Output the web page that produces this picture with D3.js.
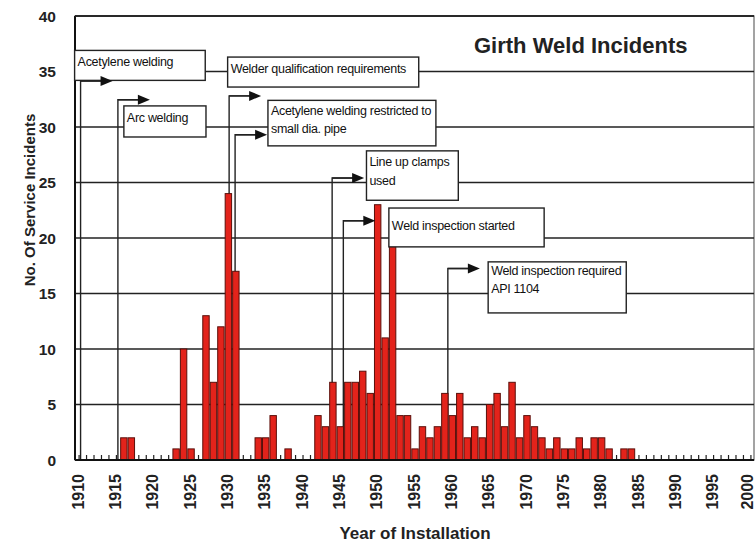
<!DOCTYPE html>
<html>
<head>
<meta charset="utf-8">
<script src="https://cdn.jsdelivr.net/npm/d3@7"></script>
<style>
  html, body { margin: 0; padding: 0; background: #fff; }
  svg { display: block; font-family: "Liberation Sans", Arial, sans-serif; }
</style>
</head>
<body>
<svg id="chart" width="755" height="546"></svg>
<script>
// ---------- data ----------
const years = d3.range(1910, 2001);
const incidents = [
  0, 0, 0, 0, 0, 0, 2, 2, 0, 0,      // 1910-1919
  0, 0, 0, 1, 10, 1, 0, 13, 7, 12,   // 1920-1929
  24, 17, 0, 0, 2, 2, 4, 0, 1, 0,    // 1930-1939
  0, 0, 4, 3, 7, 3, 7, 7, 8, 6,      // 1940-1949
  23, 11, 20, 4, 4, 1, 3, 2, 3, 6,   // 1950-1959
  4, 6, 2, 3, 2, 5, 6, 3, 7, 2,      // 1960-1969
  4, 3, 2, 1, 2, 1, 1, 2, 1, 2,      // 1970-1979
  2, 1, 0, 1, 1, 0, 0, 0, 0, 0,      // 1980-1989
  0, 0, 0, 0, 0, 0, 0, 0, 0, 0,      // 1990-1999
  0                                  // 2000
];
const xTickLabels = d3.range(1910, 2001, 5);
const yTickValues = [0, 5, 10, 15, 20, 25, 30, 35, 40];
const titleText = "Girth Weld Incidents";
const xTitle = "Year of Installation";
const yTitle = "No. Of Service Incidents";

// annotation events: connector year, arrow level (incidents units), box in data units
const annotations = [
  { lines: ["Acetylene welding"], year: 1910.2, level: 34.15, box: [1909.4, 1926.9, 36.9, 34.2] },
  { lines: ["Arc welding"], year: 1915.2, level: 32.45, box: [1916.0, 1927.0, 31.9, 29.1] },
  { lines: ["Welder qualification requirements"], year: 1930.1, level: 32.8, box: [1929.9, 1955.5, 36.3, 33.6] },
  { lines: ["Acetylene welding restricted to", "small dia. pipe"], year: 1930.9, level: 29.3, box: [1935.3, 1957.8, 32.4, 28.3] },
  { lines: ["Line up clamps", "used"], year: 1943.9, level: 25.4, box: [1948.5, 1960.8, 27.85, 23.4] },
  { lines: ["Weld inspection started"], year: 1945.4, level: 21.55, box: [1951.5, 1972.3, 22.7, 19.2] },
  { lines: ["Weld inspection required", "API 1104"], year: 1959.4, level: 17.25, box: [1964.8, 1983.3, 17.85, 13.25] }
];
// first-baseline offset and line spacing for each box (layout)
const textLayout = [
  { dy0: 16, gap: 18 }, { dy0: 16, gap: 18 }, { dy0: 16, gap: 18 },
  { dy0: 15, gap: 18 }, { dy0: 15, gap: 19 }, { dy0: 22, gap: 18 }, { dy0: 13, gap: 18 }
];

(function () {
// ---------- layout ----------
const svg = d3.select("#chart");
const pL = 75, pR = 754, pT = 16, pB = 460;

const x = d3.scaleBand().domain(years).range([pL + 0.5, pR + 0.5]).paddingInner(0.14).paddingOuter(0.05);
const y = d3.scaleLinear().domain([0, 40]).range([pB, pT]);
const xc = yr => x(yr) + x.bandwidth() / 2;
const xl = d3.scaleLinear().domain([1910, 2000]).range([xc(1910), xc(2000)]);

// frame
svg.append("rect")
  .attr("x", pL).attr("y", pT)
  .attr("width", pR - pL).attr("height", pB - pT)
  .attr("fill", "#fff").attr("stroke", "#666").attr("stroke-width", 1.2);

// horizontal gridlines
svg.append("g").selectAll("line")
  .data(yTickValues.filter(v => v > 0))
  .join("line")
  .attr("x1", pL).attr("x2", pR)
  .attr("y1", d => y(d)).attr("y2", d => y(d))
  .attr("stroke", "#222").attr("stroke-width", 1.4);

// x axis small inward ticks (at each year)
const xAxis = d3.axisBottom(x).tickSizeInner(-5).tickSizeOuter(0).tickFormat("");
const gx = svg.append("g").attr("transform", `translate(0,${pB})`).call(xAxis);
gx.select(".domain").remove();
gx.selectAll(".tick line").attr("stroke", "#222").attr("stroke-width", 1.2);

// connector lines (behind bars)
const conn = svg.append("g");
annotations.forEach(a => {
  const cx = xl(a.year), ly = y(a.level);
  conn.append("path")
    .attr("d", `M${cx},${pB} L${cx},${ly} L${cx + 22},${ly}`)
    .attr("fill", "none").attr("stroke", "#222").attr("stroke-width", 1.4);
});

// bars
svg.append("g").selectAll("rect")
  .data(years.map((yr, i) => ({ yr, v: incidents[i] })).filter(d => d.v > 0))
  .join("rect")
  .attr("x", d => x(d.yr))
  .attr("y", d => y(d.v))
  .attr("width", x.bandwidth())
  .attr("height", d => y(0) - y(d.v))
  .attr("fill", "#e3231b")
  .attr("stroke", "#5a0f0a")
  .attr("stroke-width", 1);

// left and bottom axis lines
svg.append("line").attr("x1", pL).attr("x2", pL).attr("y1", pT).attr("y2", pB)
  .attr("stroke", "#111").attr("stroke-width", 2);
svg.append("line").attr("x1", pL).attr("x2", pR).attr("y1", pB).attr("y2", pB)
  .attr("stroke", "#111").attr("stroke-width", 2);
svg.append("line").attr("x1", pL).attr("x2", pR).attr("y1", pT).attr("y2", pT)
  .attr("stroke", "#222").attr("stroke-width", 1.4);

// annotation boxes + arrowheads
const ann = svg.append("g");
annotations.forEach((a, i) => {
  const [x0, x1, t, b] = a.box;
  const bx = xl(x0), bw = xl(x1) - xl(x0), by = y(t), bh = y(b) - y(t);
  const g = ann.append("g");
  g.append("rect").attr("x", bx).attr("y", by).attr("width", bw).attr("height", bh)
    .attr("fill", "#fff").attr("stroke", "#222").attr("stroke-width", 1.4);
  const clipId = "clip" + i;
  svg.append("clipPath").attr("id", clipId).append("rect")
    .attr("x", bx).attr("y", by).attr("width", bw).attr("height", bh);
  const tl = textLayout[i];
  g.append("g").attr("clip-path", `url(#${clipId})`).selectAll("text")
    .data(a.lines).join("text")
    .attr("x", bx + 3)
    .attr("y", (d, j) => by + tl.dy0 + j * tl.gap)
    .attr("font-size", 12.5)
    .attr("letter-spacing", -0.3)
    .attr("fill", "#111")
    .text(d => d);
  const cx = xl(a.year), ly = y(a.level);
  const tip = cx + 32;
  ann.append("path")
    .attr("d", `M${cx},${ly} L${tip - 10},${ly}`)
    .attr("stroke", "#222").attr("stroke-width", 1.4);
  ann.append("path")
    .attr("d", `M${tip},${ly} L${tip - 12},${ly - 5} L${tip - 12},${ly + 5} Z`)
    .attr("fill", "#111");
});

// y tick labels
svg.append("g").selectAll("text")
  .data(yTickValues).join("text")
  .attr("x", 56).attr("y", d => y(d))
  .attr("dy", "0.36em")
  .attr("text-anchor", "end")
  .attr("font-size", 15.5).attr("font-weight", "bold").attr("fill", "#222")
  .text(d => d);

// x tick labels (rotated)
svg.append("g").selectAll("text")
  .data(xTickLabels).join("text")
  .attr("transform", d => `translate(${Math.min(xc(d) - 1, 747)},474) rotate(-90)`)
  .attr("dy", "0.36em")
  .attr("text-anchor", "end")
  .attr("font-size", 16).attr("font-weight", "bold").attr("fill", "#222")
  .text(d => d);

// axis titles
svg.append("text")
  .attr("transform", "translate(30,200) rotate(-90)")
  .attr("dy", "0.36em")
  .attr("text-anchor", "middle")
  .attr("font-size", 15).attr("font-weight", "bold").attr("fill", "#222")
  .text(yTitle);

svg.append("text")
  .attr("x", 415).attr("y", 539)
  .attr("text-anchor", "middle")
  .attr("font-size", 17).attr("font-weight", "bold").attr("fill", "#222")
  .text(xTitle);

// chart title
svg.append("text")
  .attr("x", 474).attr("y", 53)
  .attr("font-size", 22).attr("font-weight", "bold").attr("fill", "#222")
  .text(titleText);
})();
</script>
</body>
</html>
